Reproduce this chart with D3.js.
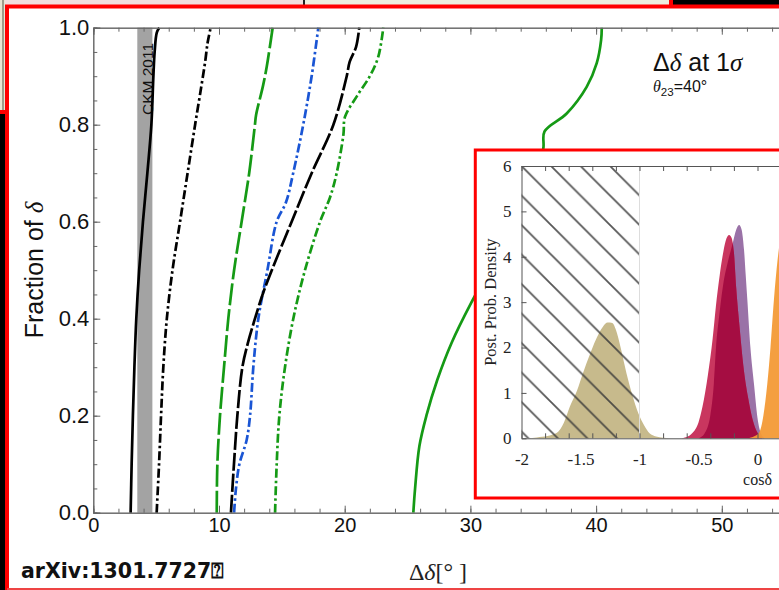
<!DOCTYPE html>
<html>
<head>
<meta charset="utf-8">
<script src="https://cdn.jsdelivr.net/npm/d3@7"></script>
<style>
  html, body { margin: 0; padding: 0; background: #fff; }
  svg { display: block; }
</style>
</head>
<body>
<svg id="chart"></svg>
<script>
// main panel: fraction of delta values vs. precision [delta(deg), fraction]
const xTickLabels = [0, 10, 20, 30, 40, 50];
const yTickLabels = [0, 0.2, 0.4, 0.6, 0.8, 1.0];
const ckmBand = [3.5, 4.7];

const solidBlack = [[2.97, 0], [3.05, 0.1], [3.15, 0.2], [3.27, 0.3], [3.42, 0.4], [3.65, 0.5], [3.95, 0.6],
  [4.3, 0.7], [4.62, 0.8], [4.78, 0.9], [4.88, 0.95], [5.05, 0.99], [5.25, 1.0]];
const dashDotBlack = [[5.04, 0], [5.23, 0.1], [5.39, 0.2], [5.57, 0.3], [5.85, 0.4], [6.3, 0.5], [6.9, 0.6],
  [7.5, 0.7], [8.1, 0.8], [8.6, 0.88], [8.9, 0.93], [9.1, 0.97], [9.34, 1.0]];
const longDashGreen = [[9.82, 0], [9.87, 0.1], [10.08, 0.2], [10.4, 0.3], [10.74, 0.4], [11.2, 0.5], [11.8, 0.6],
  [12.4, 0.7], [12.86, 0.8], [12.95, 0.82], [13.5, 0.88], [13.8, 0.92], [14.1, 0.97], [14.27, 1.0]];
const longDashBlack = [[10.95, 0], [11.19, 0.1], [11.46, 0.2], [11.86, 0.3], [12.3, 0.35], [12.86, 0.4], [13.47, 0.45],
  [14.2, 0.5], [15.78, 0.6], [17.37, 0.7], [19.1, 0.8], [20.16, 0.9], [20.4, 0.93], [20.9, 0.96], [21.16, 1.0]];
const dashDotBlue = [[11.2, 0], [11.35, 0.05], [11.62, 0.1], [12.2, 0.15], [12.47, 0.2], [12.73, 0.3], [13.13, 0.4],
  [13.85, 0.5], [14.59, 0.6], [15.33, 0.64], [15.9, 0.7], [16.7, 0.8], [17.37, 0.9], [17.9, 1.0]];
const dashDotGreen = [[14.46, 0], [14.59, 0.1], [14.8, 0.2], [15.25, 0.3], [15.91, 0.4], [16.84, 0.5], [18.04, 0.6],
  [18.83, 0.65], [19.36, 0.7], [19.9, 0.78], [20.02, 0.816], [21.0, 0.86], [22.0, 0.9], [22.67, 0.94], [23.07, 1.0]];
const solidGreen = [[25.46, 0], [25.6, 0.05], [25.94, 0.137], [26.5, 0.2], [27.37, 0.274], [28.5, 0.35], [30.05, 0.432],
  [31.5, 0.5], [33.5, 0.6], [35.2, 0.7], [35.8, 0.751], [35.9, 0.786], [37.66, 0.823], [39.25, 0.878],
  [40.05, 0.927], [40.4, 0.975], [40.45, 1.0]];

// inset: posterior densities of cos(delta) [cos, density]
const insetXTickLabels = [-2, -1.5, -1, -0.5, 0];
const insetYTickLabels = [0, 1, 2, 3, 4, 5, 6];
const excluded = [-2, -1];
const khaki = [[-1.95, 0], [-1.87, 0.02], [-1.78, 0.05], [-1.7, 0.12], [-1.64, 0.35], [-1.59, 0.7], [-1.53, 1.05],
  [-1.48, 1.43], [-1.42, 1.85], [-1.37, 2.17], [-1.31, 2.46], [-1.27, 2.55], [-1.23, 2.54], [-1.2, 2.39],
  [-1.16, 2.0], [-1.11, 1.43], [-1.06, 0.95], [-1.01, 0.55], [-0.96, 0.28], [-0.915, 0.11], [-0.86, 0.04],
  [-0.8, 0.01], [-0.74, 0]];
const purple = [[-0.5, 0], [-0.45, 0.1], [-0.4, 0.5], [-0.37, 1.2], [-0.353, 1.94], [-0.32, 2.8], [-0.29, 3.4],
  [-0.25, 3.9], [-0.21, 4.3], [-0.18, 4.6], [-0.155, 4.7], [-0.135, 4.6], [-0.114, 4.15], [-0.1, 3.6],
  [-0.086, 3.05], [-0.06, 2.0], [-0.03, 1.2], [0, 0.45], [0.03, 0.1], [0.06, 0]];
const crimson = [[-0.66, 0], [-0.6, 0.03], [-0.55, 0.12], [-0.5, 0.35], [-0.466, 0.7], [-0.42, 1.4], [-0.38, 2.2],
  [-0.353, 2.9], [-0.32, 3.6], [-0.297, 4.0], [-0.27, 4.35], [-0.24, 4.48], [-0.22, 4.42], [-0.2, 4.1],
  [-0.18, 3.3], [-0.15, 2.4], [-0.12, 1.6], [-0.08, 0.9], [-0.04, 0.4], [0, 0.12], [0.04, 0]];
const orange = [[-0.1, 0], [-0.04, 0.03], [0.013, 0.12], [0.05, 0.5], [0.083, 1.2], [0.11, 2.0], [0.139, 3.05],
  [0.17, 3.93], [0.2, 4.5], [0.23, 4.8], [0.26, 4.7], [0.3, 4.0], [0.35, 2.5], [0.4, 1.0], [0.45, 0.3],
  [0.5, 0.05], [0.55, 0]];

const width = 779;
const height = 590;

const svg = d3.select('#chart')
  .attr('width', width)
  .attr('height', height)
  .style('font-family', '"Liberation Sans", Arial, sans-serif');

// slide background around the figure
svg.append('rect').attr('x', 0).attr('y', 0).attr('width', 303).attr('height', 5).attr('fill', '#f2dede');
svg.append('rect').attr('x', 303).attr('y', 0).attr('width', 2).attr('height', 5).attr('fill', '#222');
svg.append('rect').attr('x', 305).attr('y', 0).attr('width', 364).attr('height', 5).attr('fill', '#eeeedf');
svg.append('rect').attr('x', 669).attr('y', 0).attr('width', 4).attr('height', 5).attr('fill', '#f00');
svg.append('rect').attr('x', 673).attr('y', 0).attr('width', 106).attr('height', 5).attr('fill', '#000');
svg.append('rect').attr('x', 0).attr('y', 0).attr('width', 5).attr('height', 111).attr('fill', '#e9e6d3');
svg.append('rect').attr('x', 2.5).attr('y', 0).attr('width', 1).attr('height', 111).attr('fill', '#554');
svg.append('rect').attr('x', 0).attr('y', 110).attr('width', 5).attr('height', 4).attr('fill', '#f00');
svg.append('rect').attr('x', 0).attr('y', 114).attr('width', 5).attr('height', 476).attr('fill', '#000');
svg.append('path')
  .attr('d', 'M7,590 L7,6.5 L779,6.5')
  .attr('fill', 'none')
  .attr('stroke', '#f00')
  .attr('stroke-width', 4);
svg.append('line')
  .attr('x1', 7).attr('x2', 779).attr('y1', 589).attr('y2', 589)
  .attr('stroke', '#e44').attr('stroke-width', 2);

// ---- main panel ----
const x = d3.scaleLinear().domain([0, 60]).range([93.3, 93.3 + 12.57 * 60]);
const y = d3.scaleLinear().domain([0, 1]).range([512.7, 27.7]);

svg.append('rect')
  .attr('x', x(ckmBand[0]))
  .attr('y', y(1))
  .attr('width', x(ckmBand[1]) - x(ckmBand[0]))
  .attr('height', y(0) - y(1))
  .attr('fill', '#a3a3a3');

svg.append('text')
  .attr('transform', `translate(${x(ckmBand[1]) + 0.5}, 115) rotate(-90)`)
  .attr('font-size', 15.5)
  .attr('fill', '#111')
  .text('CKM 2011');

const line = d3.line()
  .x(d => x(d[0]))
  .y(d => y(d[1]))
  .curve(d3.curveCatmullRom.alpha(0.5));

const series = [
  { data: solidBlack, color: '#000', dash: null },
  { data: dashDotBlack, color: '#000', dash: '9,3,2.5,3' },
  { data: longDashGreen, color: '#159a15', dash: '22,4' },
  { data: dashDotGreen, color: '#159a15', dash: '9,3,2.5,3' },
  { data: dashDotBlue, color: '#1a55d4', dash: '9,3,2.5,3' },
  { data: longDashBlack, color: '#000', dash: '18,3' },
  { data: solidGreen, color: '#159a15', dash: null }
];

svg.append('g')
  .selectAll('path')
  .data(series)
  .enter()
  .append('path')
  .attr('d', d => line(d.data))
  .attr('fill', 'none')
  .attr('stroke', d => d.color)
  .attr('stroke-width', 2.7)
  .attr('stroke-dasharray', d => d.dash);

// axes, ticks inward
const axisColor = '#666';
const styleAxis = g => {
  g.select('.domain').attr('stroke', axisColor);
  g.selectAll('.tick line').attr('stroke', axisColor);
  g.selectAll('.tick text').attr('fill', '#111');
};

svg.append('g')
  .attr('transform', `translate(0,${y(0)})`)
  .call(d3.axisBottom(x).ticks(30).tickSize(-4).tickFormat(''))
  .call(styleAxis);
svg.append('g')
  .attr('transform', `translate(0,${y(0)})`)
  .call(d3.axisBottom(x).tickValues(xTickLabels).tickSize(-7).tickPadding(5).tickSizeOuter(0))
  .attr('font-size', 20)
  .attr('font-family', null)
  .call(styleAxis);
svg.append('g')
  .attr('transform', `translate(0,${y(1)})`)
  .call(d3.axisTop(x).ticks(30).tickSize(-4).tickFormat(''))
  .call(styleAxis);
svg.append('g')
  .attr('transform', `translate(0,${y(1)})`)
  .call(d3.axisTop(x).tickValues(xTickLabels).tickSize(-7).tickFormat(''))
  .call(styleAxis);
svg.append('g')
  .attr('transform', `translate(${x(0)},0)`)
  .call(d3.axisLeft(y).ticks(20).tickSize(-4).tickFormat(''))
  .call(styleAxis);
svg.append('g')
  .attr('transform', `translate(${x(0)},0)`)
  .call(d3.axisLeft(y).tickValues(yTickLabels).tickSize(-7).tickPadding(4).tickFormat(d3.format('.1f')))
  .attr('font-size', 22)
  .attr('font-family', null)
  .call(styleAxis);

svg.append('text')
  .attr('transform', 'translate(43,270) rotate(-90)')
  .attr('text-anchor', 'middle')
  .attr('font-size', 25)
  .attr('fill', '#111')
  .text('Fraction of ')
  .append('tspan')
  .attr('font-family', '"Liberation Serif", serif')
  .attr('font-style', 'italic')
  .text('δ');

const xLabel = svg.append('text')
  .attr('x', 438)
  .attr('y', 580)
  .attr('text-anchor', 'middle')
  .attr('font-family', '"Liberation Serif", serif')
  .attr('font-size', 24)
  .attr('fill', '#222');
xLabel.append('tspan').text('Δ');
xLabel.append('tspan').attr('font-style', 'italic').text('δ');
xLabel.append('tspan').text('[° ]');

svg.append('text')
  .attr('x', 21)
  .attr('y', 578)
  .attr('font-family', '"DejaVu Sans", sans-serif')
  .attr('font-weight', 'bold')
  .attr('font-size', 20.5)
  .attr('fill', '#111')
  .text('arXiv:1301.7727\u2370');

const title = svg.append('text')
  .attr('x', 653)
  .attr('y', 70.5)
  .attr('font-size', 25)
  .attr('fill', '#111');
title.append('tspan').text('Δ');
title.append('tspan').attr('font-family', '"Liberation Serif", serif').attr('font-style', 'italic').text('δ');
title.append('tspan').text(' at 1');
title.append('tspan').attr('font-family', '"Liberation Serif", serif').attr('font-style', 'italic').text('σ');

const sub = svg.append('text')
  .attr('x', 653)
  .attr('y', 92)
  .attr('font-size', 16)
  .attr('fill', '#111');
sub.append('tspan').attr('font-family', '"Liberation Serif", serif').attr('font-style', 'italic').text('θ');
sub.append('tspan').attr('font-size', 11.5).attr('dy', 3.5).text('23');
sub.append('tspan').attr('dy', -3.5).text('=40°');

// ---- inset ----
svg.append('rect')
  .attr('x', 475.3)
  .attr('y', 150)
  .attr('width', 400)
  .attr('height', 348)
  .attr('fill', '#fff')
  .attr('stroke', '#f00')
  .attr('stroke-width', 3);

const ix = d3.scaleLinear().domain([-2, 1]).range([521.5, 521.5 + 118 * 3]);
const iy = d3.scaleLinear().domain([0, 6]).range([438.3, 166]);

const defs = svg.append('defs');
defs.append('pattern')
  .attr('id', 'hatch')
  .attr('patternUnits', 'userSpaceOnUse')
  .attr('width', 29.5)
  .attr('height', 29.5)
  .attr('patternTransform', `translate(${ix(-2)},${iy(6)})`)
  .append('path')
  .attr('d', 'M0,0 L29.5,29.5 M-8,21.5 L8,37.5 M21.5,-8 L37.5,8')
  .attr('stroke', '#3a3a3a')
  .attr('stroke-width', 1.8);

defs.append('clipPath')
  .attr('id', 'purpleClip')
  .append('path')
  .attr('id', 'purpleShape');

const area = d3.area()
  .x(d => ix(d[0]))
  .y0(iy(0))
  .y1(d => iy(d[1]))
  .curve(d3.curveMonotoneX);

svg.select('#purpleShape').attr('d', area(purple));

const inset = svg.append('g');

inset.append('path').attr('d', area(khaki)).attr('fill', '#c7ba8c');
inset.append('rect')
  .attr('x', ix(excluded[0]))
  .attr('y', iy(6))
  .attr('width', ix(excluded[1]) - ix(excluded[0]))
  .attr('height', iy(0) - iy(6))
  .attr('fill', 'url(#hatch)')
  .attr('opacity', 0.85);
inset.append('line')
  .attr('x1', ix(excluded[1])).attr('x2', ix(excluded[1]))
  .attr('y1', iy(6)).attr('y2', iy(0))
  .attr('stroke', '#ddd');

inset.append('path').attr('d', area(purple)).attr('fill', '#9a72a7');
inset.append('path').attr('d', area(crimson)).attr('fill', '#c9365f');
inset.append('path').attr('d', area(crimson)).attr('fill', '#a50d42').attr('clip-path', 'url(#purpleClip)');
inset.append('path').attr('d', area(orange)).attr('fill', '#f39a36').attr('opacity', 0.95);

const insetAxis = g => {
  g.select('.domain').attr('stroke', '#555');
  g.selectAll('.tick line').attr('stroke', '#555');
  g.selectAll('.tick text').attr('fill', '#222');
  g.attr('font-family', '"Liberation Serif", serif').attr('font-size', 17);
};

inset.append('g')
  .attr('transform', `translate(0,${iy(0)})`)
  .call(d3.axisBottom(ix).ticks(12).tickSize(-5).tickFormat('').tickSizeOuter(0))
  .call(insetAxis);
inset.append('g')
  .attr('transform', `translate(0,${iy(0)})`)
  .call(d3.axisBottom(ix).tickValues(insetXTickLabels).tickSize(0).tickPadding(15).tickFormat(d => String(d)))
  .call(insetAxis)
  .select('.domain').remove();
inset.append('g')
  .attr('transform', `translate(0,${iy(6)})`)
  .call(d3.axisTop(ix).ticks(12).tickSize(-5).tickFormat('').tickSizeOuter(0))
  .call(insetAxis);
inset.append('g')
  .attr('transform', `translate(${ix(-2)},0)`)
  .call(d3.axisLeft(iy).tickValues(insetYTickLabels).tickSize(-5).tickPadding(10).tickSizeOuter(0).tickFormat(d => String(d)))
  .call(insetAxis);

inset.append('text')
  .attr('transform', `translate(496,${iy(3)}) rotate(-90)`)
  .attr('text-anchor', 'middle')
  .attr('font-family', '"Liberation Serif", serif')
  .attr('font-size', 16.5)
  .attr('fill', '#222')
  .text('Post. Prob. Density');

inset.append('text')
  .attr('x', ix(0))
  .attr('y', 485)
  .attr('text-anchor', 'middle')
  .attr('font-family', '"Liberation Serif", serif')
  .attr('font-size', 16)
  .attr('fill', '#222')
  .text('cosδ');
</script>
</body>
</html>
